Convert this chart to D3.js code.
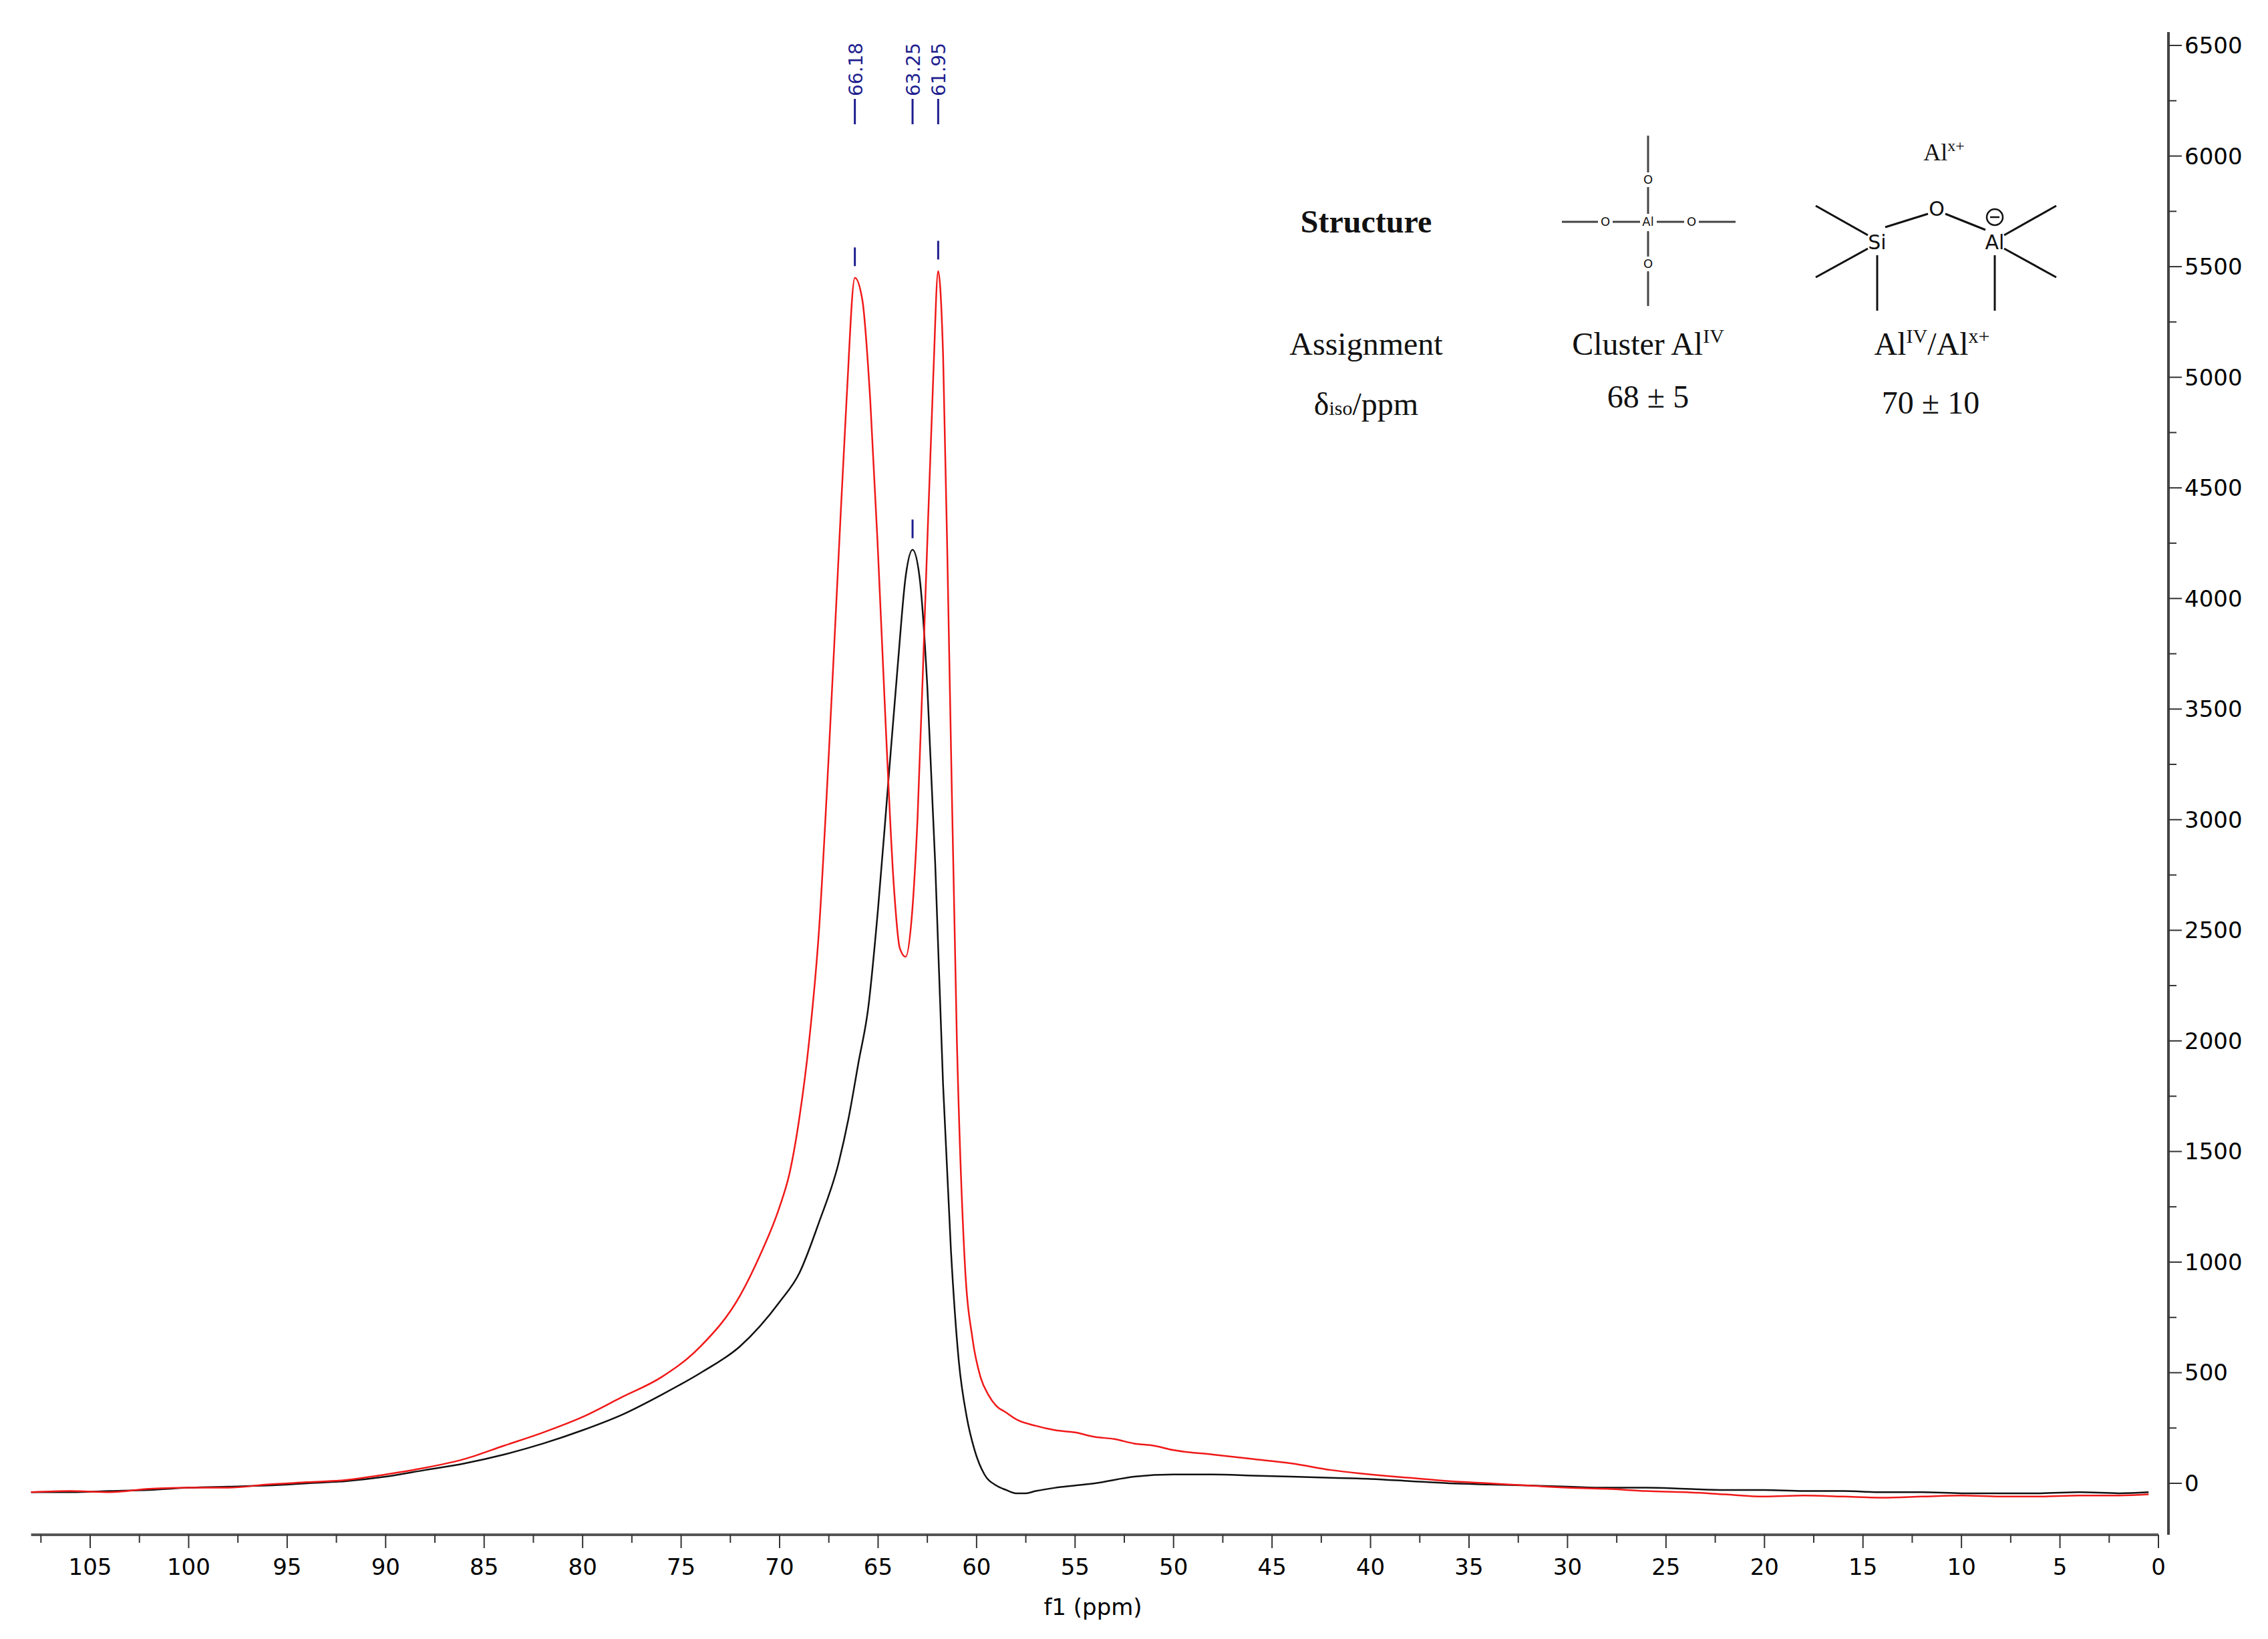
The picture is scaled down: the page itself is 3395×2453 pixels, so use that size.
<!DOCTYPE html><html><head><meta charset="utf-8">
<script src="https://cdn.jsdelivr.net/npm/d3@7"></script>
<style>body{margin:0;background:#fff}</style></head><body>
<svg id="c" width="3395" height="2453"></svg>
<script>
const redPpm = [108,106,104,102,100,98,96,94,92,90,88,86,84,82,80,78,76,74,72,71,70,69.5,69,68.5,68,67.5,67,66.6,66.18,65.8,65.4,65,64.6,64.2,63.9,63.6,63.3,63,62.6,62.2,61.95,61.7,61.4,61,60.6,60.2,59.8,59.4,59,58.5,58,57,56,55,54,53,52,51,50,48,46,44,42,40,38,36,34,32,30,28,26,24,22,20,18,16,14,12,10,8,6,4,2,0.5];
const redVal = [-40,-35,-40,-25,-20,-20,-5,5,15,40,70,110,170,230,300,390,480,620,850,1030,1250,1400,1650,2000,2500,3300,4200,4900,5450,5350,4900,4200,3400,2700,2420,2380,2550,3000,4000,5000,5480,5100,3800,2000,1000,650,480,400,350,320,290,260,240,230,210,200,180,170,150,130,110,90,60,40,25,10,0,-10,-20,-25,-35,-40,-50,-60,-55,-60,-65,-60,-55,-60,-60,-55,-55,-50];
const blackPpm = [108,106,104,102,100,98,96,94,92,90,88,86,84,82,80,78,76,74,72,70,69,68,67,66.5,66,65.5,65,64.5,64,63.6,63.25,62.9,62.5,62.1,61.7,61.3,60.9,60.5,60.1,59.6,59,58.5,58,57.5,57,56,55,54,52,50,48,46,44,42,40,38,36,34,32,30,28,26,24,22,20,18,16,14,12,10,8,6,4,2,0.5];
const blackVal = [-40,-40,-35,-30,-20,-15,-10,0,10,30,60,90,130,180,240,310,400,500,620,820,950,1180,1450,1650,1900,2150,2600,3150,3700,4100,4220,4100,3600,2800,1800,1050,550,300,150,40,-10,-30,-45,-45,-35,-20,-10,0,30,40,40,35,30,25,20,10,0,-5,-10,-15,-20,-20,-25,-30,-30,-35,-35,-40,-40,-45,-45,-45,-40,-45,-40];
const peakLabels = [66.18, 63.25, 61.95];
const peakTops = [5460, 4230, 5490];
const xTicks = [105,100,95,90,85,80,75,70,65,60,55,50,45,40,35,30,25,20,15,10,5,0];
const yTicks = [0,500,1000,1500,2000,2500,3000,3500,4000,4500,5000,5500,6000,6500];

const svg = d3.select("#c");
const x = d3.scaleLinear().domain([0,105]).range([3231,135]);
const y = d3.scaleLinear().domain([0,6500]).range([2220,68]);

// x axis
const xa = svg.append("g").attr("transform","translate(0,2297)");
xa.append("line").attr("x1",x(108)).attr("x2",x(0)).attr("stroke","#555").attr("stroke-width",4);
xa.selectAll(".mt").data(d3.range(0,108.1,2.5)).join("line")
  .attr("x1",d=>x(d)).attr("x2",d=>x(d)).attr("y1",0).attr("y2",d=>d%5===0?20:12).attr("stroke","#333").attr("stroke-width",2);
xa.selectAll("text").data(xTicks).join("text").attr("x",d=>x(d)).attr("y",60)
  .attr("text-anchor","middle").attr("font-family","DejaVu Sans").attr("font-size",34).text(d=>d);
svg.append("text").attr("x",1636).attr("y",2417).attr("text-anchor","middle")
  .attr("font-family","DejaVu Sans").attr("font-size",34).text("f1 (ppm)");

// y axis
const ya = svg.append("g").attr("transform","translate(3246,0)");
ya.append("line").attr("y1",48).attr("y2",2297).attr("stroke","#444").attr("stroke-width",4);
ya.selectAll(".mt").data(d3.range(0,6501,250)).join("line")
  .attr("x1",0).attr("x2",d=>d%500===0?20:12).attr("y1",d=>y(d)).attr("y2",d=>y(d)).attr("stroke","#333").attr("stroke-width",2);
ya.selectAll("text").data(yTicks).join("text").attr("x",24).attr("y",d=>y(d)+12)
  .attr("font-family","DejaVu Sans").attr("font-size",34).text(d=>d);

// spectra
const line = d3.line().x(d=>x(d[0])).y(d=>y(d[1])).curve(d3.curveMonotoneX);
svg.append("path").datum(blackPpm.map((p,i)=>[p,blackVal[i]]).reverse()).attr("d",line)
  .attr("fill","none").attr("stroke","#111").attr("stroke-width",2.5);
svg.append("path").datum(redPpm.map((p,i)=>[p,redVal[i]]).reverse()).attr("d",line)
  .attr("fill","none").attr("stroke","#f01818").attr("stroke-width",2.5);

// peak labels
const blue = "#1f1f8f";
peakLabels.forEach((p,i)=>{
  const px = x(p);
  svg.append("line").attr("x1",px).attr("x2",px).attr("y1",y(peakTops[i])-42).attr("y2",y(peakTops[i])-14).attr("stroke",blue).attr("stroke-width",3);
  svg.append("line").attr("x1",px).attr("x2",px).attr("y1",148).attr("y2",186).attr("stroke",blue).attr("stroke-width",3);
  svg.append("text").attr("transform",`translate(${px+11},144) rotate(-90)`).attr("fill",blue)
    .attr("font-family","DejaVu Sans").attr("font-size",28).text(p.toFixed(2));
});

// table
const serif = "Liberation Serif";
function t(xp,yp,html,opts={}){
  const e = svg.append("text").attr("x",xp).attr("y",yp).attr("text-anchor",opts.anchor||"middle")
    .attr("font-family",opts.font||serif).attr("font-size",opts.size||48).attr("font-weight",opts.bold?"bold":"normal").attr("fill","#111");
  e.html(html); return e;
}
t(2045,348,"Structure",{bold:true});
t(2045,531,"Assignment");
t(2045,621,'δ<tspan font-size="30">iso</tspan>/ppm');
t(2467,531,'Cluster Al<tspan font-size="30" dy="-18">IV</tspan>');
t(2467,610,"68 ± 5");
t(2892,531,'Al<tspan font-size="30" dy="-18">IV</tspan><tspan dy="18">/Al</tspan><tspan font-size="30" dy="-18">x+</tspan>');
t(2890,619,"70 ± 10");
t(2910,240,'Al<tspan font-size="24" dy="-14">x+</tspan>',{size:36});

// structure 1
const g1 = svg.append("g").attr("stroke","#444").attr("stroke-width",3);
[[2467,203,2467,258],[2467,280,2467,320],[2467,346,2467,384],[2467,406,2467,458],
 [2338,332,2392,332],[2414,332,2455,332],[2480,332,2521,332],[2543,332,2598,332]].forEach(l=>
  g1.append("line").attr("x1",l[0]).attr("y1",l[1]).attr("x2",l[2]).attr("y2",l[3]));
[[2467,269,"O"],[2467,395,"O"],[2403,338,"O"],[2532,338,"O"],[2467,338,"Al"]].forEach(a=>
  t(a[0],a[1]+ (a[2]==="O"&&a[1]<300||a[1]>390?6:0),a[2],{font:"DejaVu Sans",size:18}));

// structure 2
const g2 = svg.append("g").attr("stroke","#111").attr("stroke-width",3);
[[2718,308,2796,352],[2718,415,2796,372],[2810,382,2810,465],[2822,340,2886,320],
 [2912,320,2972,344],[3078,308,3000,352],[3078,415,3000,372],[2986,382,2986,465]].forEach(l=>
  g2.append("line").attr("x1",l[0]).attr("y1",l[1]).attr("x2",l[2]).attr("y2",l[3]));
t(2810,373,"Si",{font:"DejaVu Sans",size:30});
t(2899,323,"O",{font:"DejaVu Sans",size:30});
t(2986,373,"Al",{font:"DejaVu Sans",size:30});
svg.append("circle").attr("cx",2986).attr("cy",325).attr("r",12).attr("fill","none").attr("stroke","#111").attr("stroke-width",2.5);
svg.append("line").attr("x1",2979).attr("x2",2993).attr("y1",325).attr("y2",325).attr("stroke","#111").attr("stroke-width",2.5);
</script></body></html>
